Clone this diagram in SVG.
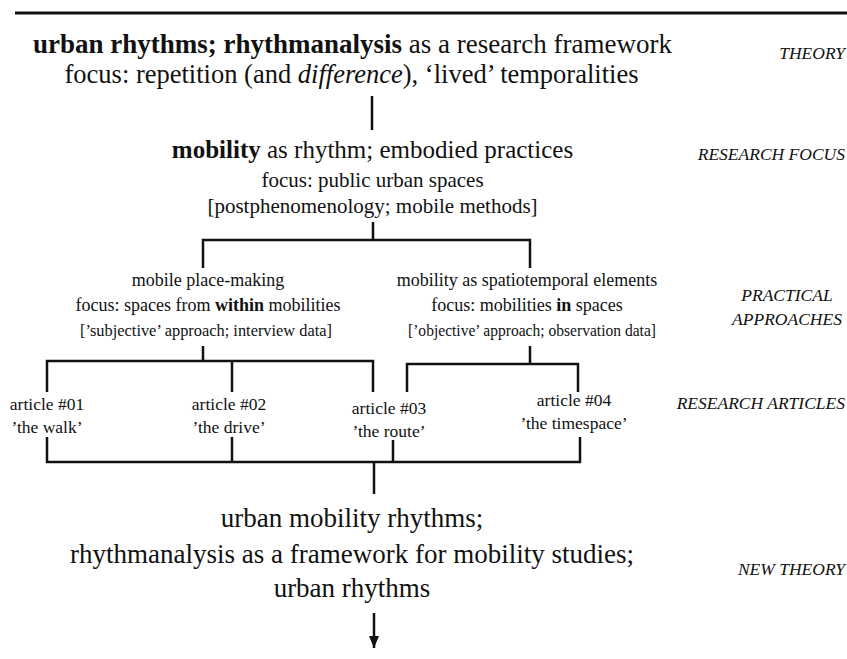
<svg xmlns="http://www.w3.org/2000/svg" width="847" height="659" viewBox="0 0 847 659">
<style>
text{fill:#111;text-anchor:middle;font-family:'Liberation Serif',serif !important}
.b{font-weight:bold}
.i{font-style:italic}
.lbl{font-style:italic;font-size:17.5px;text-anchor:end}
.lblc{font-style:italic;font-size:17.5px}
.ln{stroke:#111;stroke-width:2.5;fill:none}
</style>
<defs>
<marker id="ah" markerWidth="12" markerHeight="10" refX="12" refY="5" orient="auto" markerUnits="userSpaceOnUse" viewBox="0 0 12 10">
<path d="M0,0 L12,5 L0,10 Z" fill="#111"/>
</marker>
</defs>
<rect width="847" height="659" fill="#fff"/>
<line x1="15" y1="13" x2="847" y2="13" stroke="#111" stroke-width="3"/>
<g id="labels">
<text font-family="Liberation Serif" class="lbl" x="845" y="59">THEORY</text>
<text font-family="Liberation Serif" class="lbl" x="845" y="160">RESEARCH FOCUS</text>
<text font-family="Liberation Serif" class="lblc" x="787" y="301">PRACTICAL</text>
<text font-family="Liberation Serif" class="lblc" x="787" y="325">APPROACHES</text>
<text font-family="Liberation Serif" class="lbl" x="845" y="409">RESEARCH ARTICLES</text>
<text font-family="Liberation Serif" class="lbl" x="845" y="575">NEW THEORY</text>
</g>

<g id="theory">
<text font-family="Liberation Serif" x="352.5" y="53" font-size="27"><tspan class="b">urban rhythms; rhythmanalysis</tspan> as a research framework</text>
<text font-family="Liberation Serif" x="351.5" y="83" font-size="26.5">focus: repetition (and <tspan class="i">difference</tspan>), ‘lived’ temporalities</text>
</g>

<g id="research-focus">
<text font-family="Liberation Serif" x="372.5" y="158" font-size="25"><tspan class="b">mobility</tspan> as rhythm; embodied practices</text>
<text font-family="Liberation Serif" x="372.5" y="187" font-size="21">focus: public urban spaces</text>
<text font-family="Liberation Serif" x="372.5" y="213" font-size="21">[postphenomenology; mobile methods]</text>
</g>

<g id="approach-left">
<text font-family="Liberation Serif" x="208" y="286" font-size="18">mobile place-making</text>
<text font-family="Liberation Serif" x="208" y="311" font-size="18">focus: spaces from <tspan class="b">within</tspan> mobilities</text>
<text font-family="Liberation Serif" x="206" y="336" font-size="16.5" textLength="252" lengthAdjust="spacingAndGlyphs">[’subjective’ approach; interview data]</text>
</g>

<g id="approach-right">
<text font-family="Liberation Serif" x="527" y="286" font-size="18">mobility as spatiotemporal elements</text>
<text font-family="Liberation Serif" x="527" y="311" font-size="18">focus: mobilities <tspan class="b">in</tspan> spaces</text>
<text font-family="Liberation Serif" x="532" y="336" font-size="16.5" textLength="248" lengthAdjust="spacingAndGlyphs">[’objective’ approach; observation data]</text>
</g>

<g id="article-01">
<text font-family="Liberation Serif" x="47" y="410" font-size="17.5">article #01</text>
<text font-family="Liberation Serif" x="47" y="433" font-size="17.5">’the walk’</text>
</g>
<g id="article-02">
<text font-family="Liberation Serif" x="229" y="410" font-size="17.5">article #02</text>
<text font-family="Liberation Serif" x="229" y="433" font-size="17.5">’the drive’</text>
</g>
<g id="article-03">
<text font-family="Liberation Serif" x="389" y="414" font-size="17.5">article #03</text>
<text font-family="Liberation Serif" x="389" y="437" font-size="17.5">’the route’</text>
</g>
<g id="article-04">
<text font-family="Liberation Serif" x="574" y="406" font-size="17.5">article #04</text>
<text font-family="Liberation Serif" x="574" y="429" font-size="17.5">’the timespace’</text>
</g>

<g id="new-theory">
<text font-family="Liberation Serif" x="352" y="527" font-size="27">urban mobility rhythms;</text>
<text font-family="Liberation Serif" x="352" y="563" font-size="27">rhythmanalysis as a framework for mobility studies;</text>
<text font-family="Liberation Serif" x="352" y="597" font-size="27">urban rhythms</text>
</g>
<g id="connectors" class="ln">
<path class="ln" d="M372,96 V130"/>
<path class="ln" d="M373,222 V240 M203,268 V240 H530 V268"/>
<path class="ln" d="M203,346 V361 M47,392 V361 H373 V392 M232,361 V392"/>
<path class="ln" d="M530,346 V364 M407,392 V364 H578 V392"/>
<path class="ln" d="M47,437 V462 H580 V437 M232,437 V462 M393,440 V462 M374,462 V494"/>
<path class="ln" d="M374,613 V648" marker-end="url(#ah)"/>
</g>
</svg>
